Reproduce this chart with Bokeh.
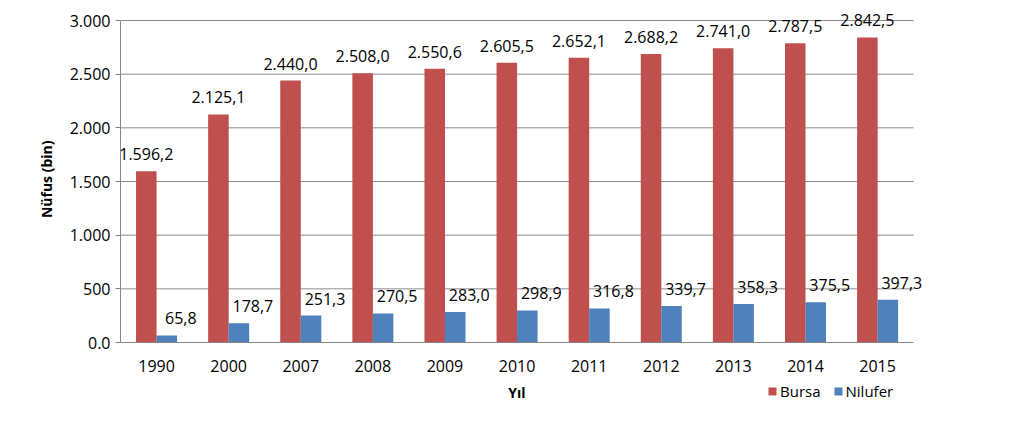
from bokeh.plotting import figure
from bokeh.models import ColumnDataSource, LabelSet, Legend, LegendItem, FixedTicker, Range1d, Title
from bokeh.transform import dodge
from bokeh.core.properties import value
from bokeh.embed import file_html
from bokeh.resources import INLINE

years = ["1990", "2000", "2007", "2008", "2009", "2010", "2011", "2012", "2013", "2014", "2015"]
bursa = [1596.2, 2125.1, 2440.0, 2508.0, 2550.6, 2605.5, 2652.1, 2688.2, 2741.0, 2787.5, 2842.5]
nilufer = [65.8, 178.7, 251.3, 270.5, 283.0, 298.9, 316.8, 339.7, 358.3, 375.5, 397.3]
y_ticks = [0, 500, 1000, 1500, 2000, 2500, 3000]
y_tick_labels = ["0.0", "500", "1.000", "1.500", "2.000", "2.500", "3.000"]


def tr(v):
    s = f"{v:,.1f}"
    return s.replace(",", "X").replace(".", ",").replace("X", ".")


idx = list(range(len(years)))
src = ColumnDataSource(dict(
    x=idx, bursa=bursa, nilufer=nilufer,
    bursa_lbl=[tr(v) for v in bursa], nilufer_lbl=[tr(v) for v in nilufer],
))

FONT = "Open Sans"
RED = "#C0504D"
BLUE = "#4F81BD"
GRID = "#8c8c8c"

# layout (pixels): frame spans canvas rows 4..413, value axis 0 at row 342, top tick at row 20
TOP, BOTTOM, ZERO_ROW, MAX_ROW = 4, 413, 342, 20
y_max = y_ticks[-1]
px_per_unit = (ZERO_ROW - MAX_ROW) / y_max
x_lo, x_hi = -0.5, len(years) - 0.5

p = figure(x_range=Range1d(x_lo, x_hi + 0.4),
           y_range=Range1d(-(BOTTOM - ZERO_ROW) / px_per_unit, (ZERO_ROW - TOP) / px_per_unit),
           width=1016, height=417, output_backend="svg", toolbar_location=None,
           min_border_left=120, min_border_right=74, min_border_top=TOP,
           min_border_bottom=417 - BOTTOM)
p.outline_line_color = None
p.xgrid.grid_line_color = None
p.ygrid.grid_line_color = None

# gridlines limited to the category span
p.segment(x0=[x_lo] * (len(y_ticks) - 1), x1=[x_hi] * (len(y_ticks) - 1),
          y0=y_ticks[1:], y1=y_ticks[1:], line_color=GRID, line_width=1)

rb = p.vbar(x=dodge("x", -0.142), top="bursa", width=0.285,
            source=src, color=RED, line_color=None)
rn = p.vbar(x=dodge("x", 0.142), top="nilufer", width=0.285,
            source=src, color=BLUE, line_color=None)

lb = LabelSet(x=dodge("x", -0.142), y="bursa", text="bursa_lbl", source=src,
              text_align="center", text_baseline="bottom", y_offset=11,
              text_font=value(FONT), text_font_size="16px", text_color="#000000")
ln = LabelSet(x=dodge("x", 0.142), y="nilufer", text="nilufer_lbl", source=src,
              text_align="center", text_baseline="bottom", y_offset=11, x_offset=14,
              text_font=value(FONT), text_font_size="16px", text_color="#000000")
p.add_layout(lb)
p.add_layout(ln)

# axes
p.yaxis.ticker = FixedTicker(ticks=y_ticks)
p.yaxis.major_label_overrides = {t: l for t, l in zip(y_ticks, y_tick_labels)}
p.yaxis.bounds = (0, y_max)
p.xaxis.ticker = FixedTicker(ticks=idx)
p.xaxis.major_label_overrides = {i: y for i, y in zip(idx, years)}
p.xaxis.bounds = (x_lo, x_hi)
p.xaxis.fixed_location = 0
p.xaxis.axis_label = "Yıl"
for ax in (p.xaxis[0], p.yaxis[0]):
    ax.axis_label_text_font = FONT
    ax.axis_label_text_font_style = "bold"
    ax.axis_label_text_font_size = "14px"
    ax.axis_label_text_color = "#000000"
    ax.major_label_text_font = FONT
    ax.major_label_text_font_size = "16px"
    ax.major_label_text_color = "#000000"
    ax.axis_line_color = "#868686"
    ax.minor_tick_line_color = None
    ax.major_tick_in = 0

p.yaxis.major_tick_out = 5
p.yaxis.major_tick_line_color = "#868686"
p.yaxis.major_label_standoff = 5
p.xaxis.major_tick_out = 0
p.xaxis.major_tick_line_color = None
p.xaxis.major_label_standoff = 17
p.xaxis.axis_label_standoff = 8

# value-axis title, placed along the value span (frame is taller than the axis)
ytitle = Title(text="Nüfus (bin)", align="right", offset=136,
               text_font=FONT, text_font_size="14px", text_font_style="bold",
               text_color="#000000")
if "standoff" in Title.properties():
    ytitle.standoff = 22
p.add_layout(ytitle, "left")

legend = Legend(items=[LegendItem(label="Bursa", renderers=[rb]),
                       LegendItem(label="Nilufer", renderers=[rn])],
                location=(647, 12), orientation="horizontal",
                glyph_width=10, glyph_height=10, label_standoff=3, spacing=12,
                padding=0, margin=0, border_line_color=None, background_fill_alpha=0,
                label_text_font=FONT, label_text_font_size="15px", label_text_color="#000000")
p.add_layout(legend, "center")

open("out.html", "w").write(file_html(p, INLINE))
